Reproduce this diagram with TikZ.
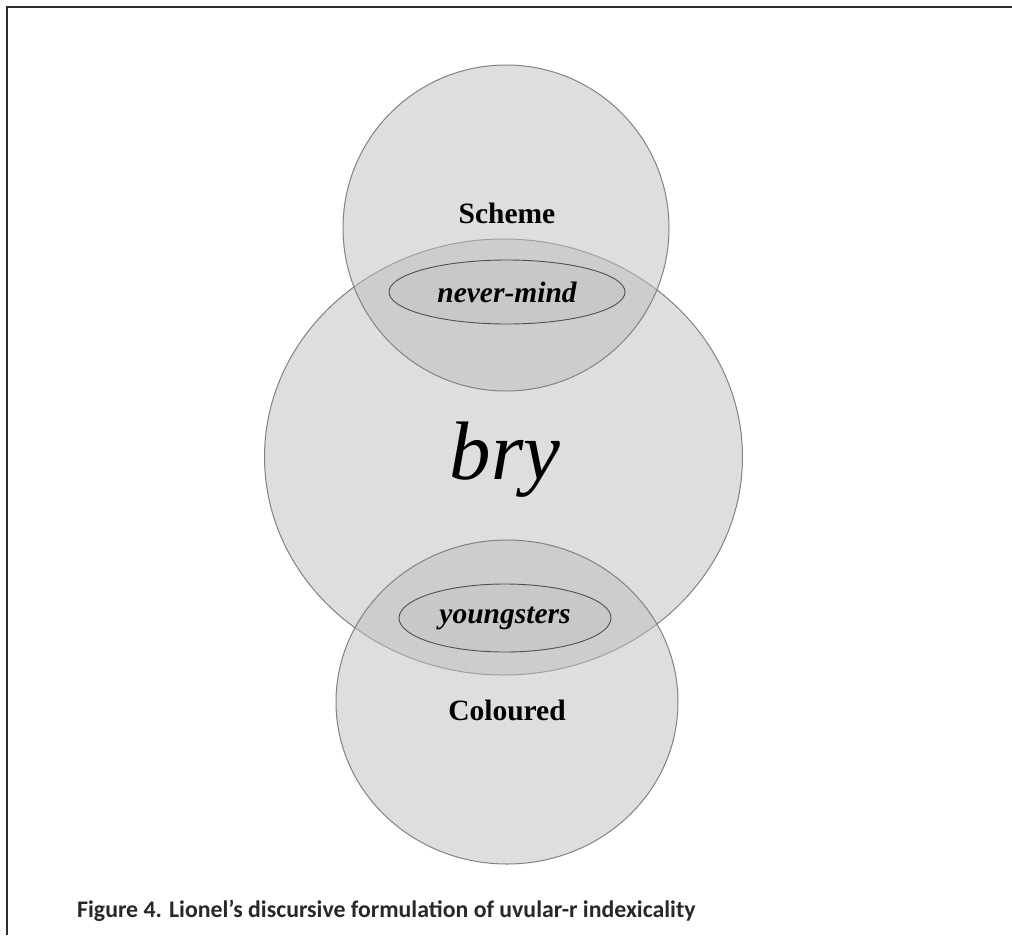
\documentclass[tikz,border=0pt]{standalone}
\usepackage{fontspec}
\setmainfont{Liberation Serif}
\newfontfamily\capfont{Carlito}
\usetikzlibrary{shapes.geometric}
\definecolor{edgegray}{RGB}{130,130,130}
\definecolor{innergray}{RGB}{80,80,80}
\definecolor{fillgray}{RGB}{190,190,190}
\definecolor{framegray}{RGB}{45,45,45}
\definecolor{capgray}{RGB}{40,40,40}
\tikzset{
  setcirc/.style={ellipse, draw=edgegray, line width=1pt, fill=fillgray, fill opacity=0.5, inner sep=0pt},
  subset/.style={ellipse, draw=innergray, line width=0.9pt, fill=fillgray, fill opacity=0.3, text opacity=1, inner sep=0pt},
  lbl/.style={font=\fontsize{29.5}{33}\selectfont\bfseries, text=black},
  framel/.style={draw=framegray, line width=2pt},
}
\begin{document}
\begin{tikzpicture}[x=1pt,y=-1pt]
\useasboundingbox (0,0) rectangle (1012,935);
\fill[white] (0,0) rectangle (1012,935);
\coordinate (fa) at (6.5,935);
\coordinate (fb) at (6.5,6.5);
\coordinate (fc) at (1012,6.5);
\draw[framel] (fa) -- (fb) -- (fc);
% sets
\node[setcirc, minimum width=478pt, minimum height=436pt] (big) at (503.5,457) {};
\node[setcirc, minimum width=326pt, minimum height=326pt] (top) at (506,228) {};
\node[setcirc, minimum width=342pt, minimum height=324pt] (bot) at (507,702) {};
% subsets
\node[subset, minimum width=236pt, minimum height=64pt] (nm) at (507,292) {};
\node[subset, minimum width=212pt, minimum height=68pt] (yg) at (505,618) {};
% labels
\node[lbl] (scheme) at (507,213) {Scheme};
\node[lbl] (coloured) at (507,710) {Coloured};
\node[lbl, font=\fontsize{29.5}{33}\selectfont\bfseries\itshape] (nmt) at (nm) {never-mind};
\node[lbl, font=\fontsize{29.5}{33}\selectfont\bfseries\itshape] (ygt) at (yg) {youngsters};
\node[font=\fontsize{83}{90}\selectfont\itshape] (bry) at (505,460) {bry};
% caption
\node[anchor=west, font=\capfont\fontsize{23.8}{28}\selectfont\bfseries, text=capgray, inner sep=0pt] (cap) at (77,911) {Figure 4. Lionel’s discursive formulation of uvular-r indexicality};
\end{tikzpicture}
\end{document}
